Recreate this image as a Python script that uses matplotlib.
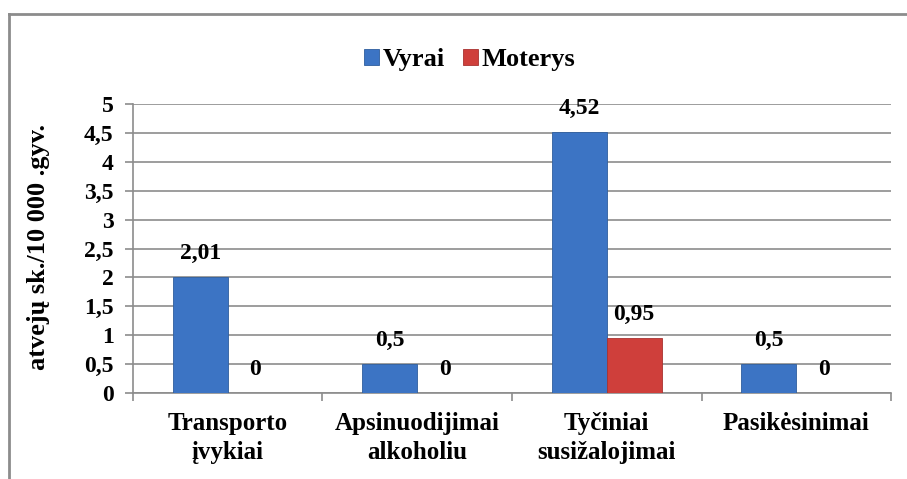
import numpy as np
import matplotlib.pyplot as plt
from matplotlib.lines import Line2D

FONT = 'Liberation Serif'
plt.rcParams['font.family'] = FONT

categories = ['Transporto\nįvykiai', 'Apsinuodijimai\nalkoholiu',
              'Tyčiniai\nsusižalojimai', 'Pasikėsinimai']
vyrai = [2.01, 0.5, 4.52, 0.5]
moterys = [0, 0, 0.95, 0]
series_names = ['Vyrai', 'Moterys']
yticks = np.arange(0, 5.01, 0.5)

blue = '#3c74c4'
red = '#cf3f3b'
grid_col = '#8c8c8c'


def fmt(v):
    s = ('%.2f' % v).rstrip('0').rstrip('.')
    return s.replace('.', ',')


fig = plt.figure(figsize=(9.07, 4.79), dpi=100)
ax = fig.add_axes([0.1466, 0.1795, 0.8358, 0.6034])

x = np.arange(len(categories))
w = 0.29
b1 = ax.bar(x - w / 2, vyrai, w, color=blue, edgecolor='#2f5e9e', linewidth=0.6,
            zorder=3, label=series_names[0])
b2 = ax.bar(x + w / 2, moterys, w, color=red, edgecolor='#a83230', linewidth=0.6,
            zorder=3, label=series_names[1])

for bars, vals in ((b1, vyrai), (b2, moterys)):
    for r, v in zip(bars, vals):
        ax.annotate(fmt(v), (r.get_x() + r.get_width() / 2, v),
                    xytext=(0, 17), textcoords='offset points',
                    ha='center', va='center', fontsize=17, fontweight='bold',
                    fontfamily=FONT)

ax.set_xlim(-0.5, len(categories) - 0.5)
ax.set_ylim(0, 5)
ax.set_yticks(yticks)
ax.set_yticklabels([fmt(t) for t in yticks], fontsize=17, fontweight='bold',
                   fontfamily=FONT)
ax.yaxis.grid(True, color=grid_col, linewidth=1.2, zorder=0)

ax.set_xticks(x)
ax.set_xticklabels(categories, fontsize=18, fontweight='bold', fontfamily=FONT,
                   linespacing=1.3)
ax.tick_params(axis='x', length=0, pad=14)
ax.set_xticks(np.arange(-0.5, len(categories)), minor=True)
ax.tick_params(axis='x', which='minor', length=6, color=grid_col, width=1.2)
ax.tick_params(axis='y', length=6, color=grid_col, width=1.2, pad=8)

for s in ['top', 'right']:
    ax.spines[s].set_visible(False)
for s in ['left', 'bottom']:
    ax.spines[s].set_color(grid_col)
    ax.spines[s].set_linewidth(1.2)

fig.text(0.042, 0.485, 'atvejų sk./10 000 .gyv.', rotation=90, ha='center',
         va='center', fontsize=19, fontweight='bold', fontfamily=FONT)

fig.legend(handles=[b1, b2], labels=series_names, loc='center',
           bbox_to_anchor=(0.518, 0.875), ncol=2, frameon=False,
           handlelength=0.55, handleheight=0.55,
           handletextpad=0.15, columnspacing=0.7,
           prop={'family': FONT, 'weight': 'bold', 'size': 19})

# outer chart frame (top and left edges visible)
fig.add_artist(Line2D([9 / 907, 1], [1 - 14 / 479, 1 - 14 / 479],
                      transform=fig.transFigure, color='#8c8c8c', linewidth=2))
fig.add_artist(Line2D([9 / 907, 9 / 907], [0, 1 - 14 / 479],
                      transform=fig.transFigure, color='#8c8c8c', linewidth=2))

fig.savefig('out.png', dpi=100)
